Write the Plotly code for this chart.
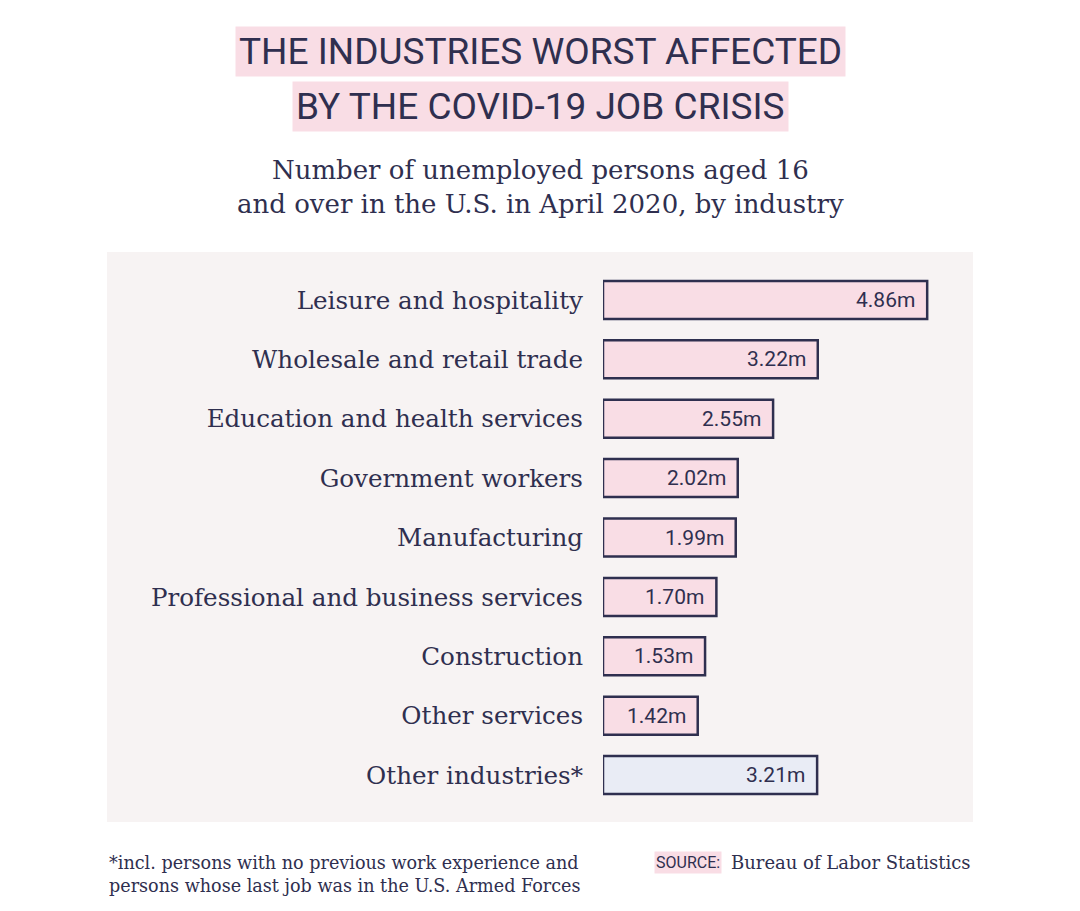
import plotly.graph_objects as go

categories = ["Leisure and hospitality", "Wholesale and retail trade", "Education and health services",
              "Government workers", "Manufacturing", "Professional and business services",
              "Construction", "Other services", "Other industries*"]
values = [4.86, 3.22, 2.55, 2.02, 1.99, 1.70, 1.53, 1.42, 3.21]
value_labels = ["4.86m", "3.22m", "2.55m", "2.02m", "1.99m", "1.70m", "1.53m", "1.42m", "3.21m"]

NAVY = "#2f2f4f"
PINK = "#f9dde5"
BLUE = "#e9ecf5"
PANEL = "#f7f3f3"
SERIF = "DejaVu Serif, Liberation Serif, serif"
COND = "Roboto, Liberation Sans, sans-serif"

W, H = 1080, 911
OFF = 8  # page offset of the figure


def px(x):
    return (x - OFF) / W


def py(y):
    return 1 - (y - OFF) / H


colors = [PINK] * 8 + [BLUE]

fig = go.Figure()
fig.add_trace(go.Bar(
    y=categories, x=values, orientation="h",
    marker=dict(color=colors, line=dict(color=NAVY, width=2.5)),
    width=0.64, hoverinfo="skip",
))

for c, v, t in zip(categories, values, value_labels):
    fig.add_annotation(x=v, y=c, xref="x", yref="y", text=t, showarrow=False,
                       xanchor="right", xshift=-10,
                       font=dict(family=COND, size=21, color=NAVY))

xr = 5.547
fig.update_layout(
    width=W, height=H,
    margin=dict(l=0, r=0, t=0, b=0),
    paper_bgcolor="white", plot_bgcolor="rgba(0,0,0,0)",
    showlegend=False,
    xaxis=dict(domain=[px(603), px(973)], range=[0, xr], visible=False, fixedrange=True),
    yaxis=dict(domain=[py(804.7), py(270.3)], autorange=False, range=[8.5, -0.5],
               categoryorder="array", categoryarray=categories,
               showgrid=False, zeroline=False, showline=False, ticks="",
               ticklabelstandoff=19,
               tickfont=dict(family=SERIF, size=24.6, color=NAVY)),
)

# panel background
fig.add_shape(type="rect", xref="paper", yref="paper",
              x0=px(107), x1=px(973), y0=py(822), y1=py(252),
              fillcolor=PANEL, line=dict(width=0), layer="below")

# title
fig.add_annotation(text="THE INDUSTRIES WORST AFFECTED", xref="paper", yref="paper",
                   x=px(540), y=py(51.5), xanchor="center", yanchor="middle", showarrow=False,
                   font=dict(family=COND, size=37, color=NAVY), bgcolor=PINK, borderpad=3)
fig.add_annotation(text="BY THE COVID-19 JOB CRISIS", xref="paper", yref="paper",
                   x=px(540), y=py(106.5), xanchor="center", yanchor="middle", showarrow=False,
                   font=dict(family=COND, size=37, color=NAVY), bgcolor=PINK, borderpad=3)
# subtitle
fig.add_annotation(text="Number of unemployed persons aged 16<br>and over in the U.S. in April 2020, by industry",
                   xref="paper", yref="paper", x=px(540), y=py(187), xanchor="center", yanchor="middle",
                   showarrow=False, align="center",
                   font=dict(family=SERIF, size=26, color=NAVY))
# footnote
fig.add_annotation(text="*incl. persons with no previous work experience and<br>persons whose last job was in the U.S. Armed Forces",
                   xref="paper", yref="paper", x=px(107), y=py(874), xanchor="left", yanchor="middle",
                   showarrow=False, align="left",
                   font=dict(family=SERIF, size=17.6, color=NAVY))
fig.add_annotation(text="SOURCE:", xref="paper", yref="paper", x=px(722), y=py(862),
                   xanchor="right", yanchor="middle", showarrow=False,
                   font=dict(family=COND, size=16, color=NAVY), bgcolor=PINK, borderpad=1)
fig.add_annotation(text="Bureau of Labor Statistics", xref="paper", yref="paper", x=px(973), y=py(862),
                   xanchor="right", yanchor="middle", showarrow=False,
                   font=dict(family=SERIF, size=18, color=NAVY))

fig.write_html("out.html")
